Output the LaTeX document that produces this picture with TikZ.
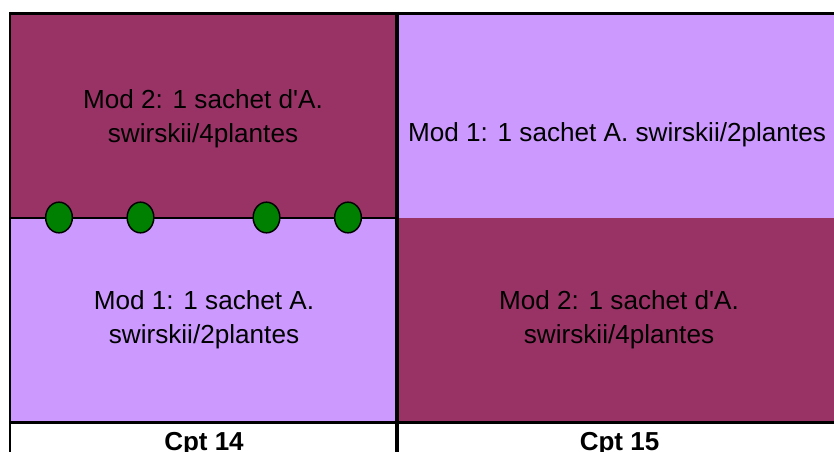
\documentclass[tikz,border=0pt]{standalone}
\usepackage{fontspec}
% keep the apostrophe straight
\setmainfont{Liberation Sans}[Ligatures=TeXOff]
\usetikzlibrary{shapes.geometric}
\definecolor{maroon}{HTML}{993366}
\definecolor{lilac}{HTML}{CC99FF}
\definecolor{leafgreen}{HTML}{008000}
\begin{document}
\begin{tikzpicture}[x=0.75pt,y=-0.75pt,
  celltext/.style={align=center,inner sep=0pt,font=\fontsize{19.6}{25.5}\selectfont},
  cpt/.style={inner sep=0pt,anchor=base,font=\fontsize{19.5}{23}\selectfont\bfseries},
  plant/.style={ellipse,draw=black,line width=1.1pt,fill=leafgreen,minimum width=20pt,minimum height=23pt,inner sep=0pt},
  border/.style={draw=black}]
\useasboundingbox (0,0) rectangle (834,452);
\fill[white] (0,0) rectangle (834,452);
% cells
\fill[maroon] (11,15) rectangle (397,218);
\fill[lilac]  (11,218) rectangle (397,421);
\fill[lilac]  (397,15) rectangle (834,218);
\fill[maroon] (397,218) rectangle (834,421);
% grid lines
\draw[border,line width=2.25pt] (9,13.5) -- (834,13.5);
\draw[border,line width=1.5pt] (10,12) -- (10,452);
\draw[border,line width=3pt] (397,12) -- (397,452);
\draw[border,line width=1.5pt] (11,218) -- (397,218);
\draw[border,line width=2.6pt] (9,422.5) -- (834,422.5);
% cell texts
\node[celltext] (tl) at (203,119) {Mod 2: 1 sachet d'A.\\swirskii/4plantes};
\node[celltext,anchor=base] (tr) at (617,142) {Mod 1: 1 sachet A. swirskii/2plantes};
\node[celltext] (bl) at (204,320) {Mod 1: 1 sachet A.\\swirskii/2plantes};
\node[celltext] (br) at (619,320) {Mod 2: 1 sachet d'A.\\swirskii/4plantes};
% compartment labels
\node[cpt] (c14) at (204,450) {Cpt 14};
\node[cpt] (c15) at (619.5,450) {Cpt 15};
% plants on the row line
\node[plant] (p1) at (59,217.5) {};
\node[plant] (p2) at (140.5,217.5) {};
\node[plant] (p3) at (266.5,217.5) {};
\node[plant] (p4) at (348,217.5) {};
\end{tikzpicture}
\end{document}
